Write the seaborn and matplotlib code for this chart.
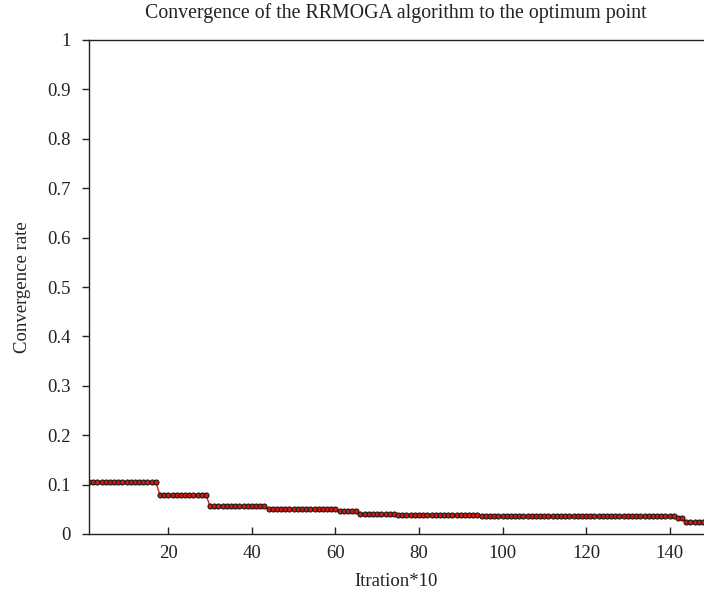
import matplotlib
matplotlib.use("Agg")
import matplotlib.pyplot as plt
import seaborn as sns
import pandas as pd

iterations = list(range(1, 149))
convergence = [
    0.105, 0.105, 0.105, 0.105, 0.105, 0.105, 0.105, 0.105, 0.105, 0.105,
    0.105, 0.105, 0.105, 0.105, 0.105, 0.105, 0.105,
    0.079, 0.079, 0.079, 0.079, 0.079, 0.079, 0.079, 0.079, 0.079, 0.079,
    0.079, 0.079,
    0.056, 0.056, 0.056, 0.056, 0.056, 0.056, 0.056, 0.056, 0.056, 0.056,
    0.056, 0.056, 0.056, 0.056,
    0.050, 0.050, 0.050, 0.050, 0.050, 0.050, 0.050, 0.050, 0.050, 0.050,
    0.050, 0.050, 0.050, 0.050, 0.050, 0.050, 0.050,
    0.047, 0.047, 0.047, 0.047, 0.047,
    0.041, 0.041, 0.041, 0.041, 0.041, 0.041, 0.041, 0.041, 0.041,
    0.038, 0.038, 0.038, 0.038, 0.038, 0.038, 0.038, 0.038, 0.038, 0.038,
    0.038, 0.038, 0.038, 0.038, 0.038, 0.038, 0.038, 0.038, 0.038, 0.038,
    0.036, 0.036, 0.036, 0.036, 0.036, 0.036, 0.036, 0.036, 0.036, 0.036,
    0.036, 0.036, 0.036, 0.036, 0.036, 0.036, 0.036, 0.036, 0.036, 0.036,
    0.036, 0.036, 0.036, 0.036, 0.036, 0.036, 0.036, 0.036, 0.036, 0.036,
    0.036, 0.036, 0.036, 0.036, 0.036, 0.036, 0.036, 0.036, 0.036, 0.036,
    0.036, 0.036, 0.036, 0.036, 0.036, 0.036, 0.036,
    0.033, 0.033,
    0.024, 0.024, 0.024, 0.024, 0.024,
]
x_ticks = [20, 40, 60, 80, 100, 120, 140]
y_ticks = [0, 0.1, 0.2, 0.3, 0.4, 0.5, 0.6, 0.7, 0.8, 0.9, 1]
y_tick_labels = ["0", "0.1", "0.2", "0.3", "0.4", "0.5", "0.6", "0.7", "0.8", "0.9", "1"]

df = pd.DataFrame({"iter": iterations, "rate": convergence})

sns.set_style("ticks")
plt.rcParams["font.family"] = ["Liberation Serif", "DejaVu Serif"]

fig = plt.figure(figsize=(7.04, 5.99), dpi=100)
ax = fig.add_axes([89 / 704, (599 - 534) / 599, (703 - 89) / 704, (534 - 40) / 599])

sns.lineplot(data=df, x="iter", y="rate", ax=ax, color="#e8140c", linewidth=1.0,
             marker="o", markersize=3.6, markerfacecolor="#d41a10",
             markeredgecolor="#1a1a1a", markeredgewidth=0.8)

ax.set_xlim(1, 148)
ax.set_ylim(0, 1)
ax.set_xticks(x_ticks)
ax.set_xticklabels([str(t) for t in x_ticks])
ax.set_yticks(y_ticks)
ax.set_yticklabels(y_tick_labels)

for s in ["left", "bottom", "top", "right"]:
    ax.spines[s].set_color("#222222")
    ax.spines[s].set_linewidth(1.0)
ax.spines["right"].set_visible(False)

ax.tick_params(axis="x", direction="in", length=5, width=1, labelsize=13.5, pad=8, colors="#222222")
ax.tick_params(axis="y", direction="out", length=5, width=1, labelsize=13.5, pad=8, colors="#222222")

ax.set_xlabel("Itration*10", fontsize=13.5, color="#222222", labelpad=8)
ax.set_ylabel("Convergence rate", fontsize=13.5, color="#222222", labelpad=12)
ax.set_title("Convergence of the RRMOGA algorithm to the optimum point", fontsize=14.3,
             color="#222222", pad=16)

fig.savefig("out.png", dpi=100)
